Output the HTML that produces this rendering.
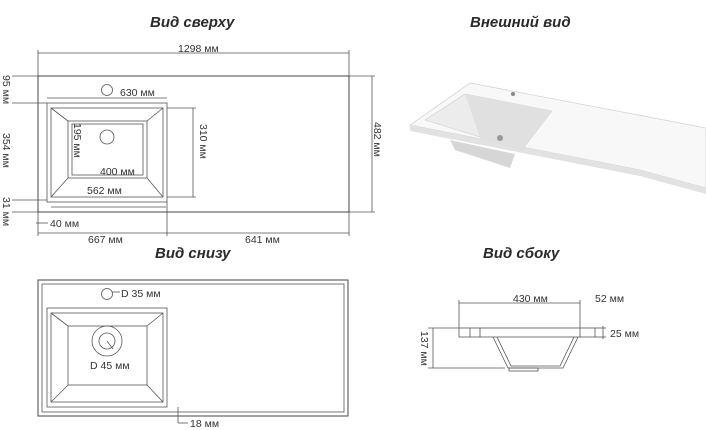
<!DOCTYPE html>
<html><head><meta charset="utf-8"><style>
html,body{margin:0;padding:0;background:#fff;width:706px;height:430px;overflow:hidden}
svg{display:block}
text{font-family:"Liberation Sans",sans-serif;fill:#333;font-size:10.5px}
.t{font-size:15px;font-weight:bold;font-style:italic;fill:#2a2a2a}
</style></head><body>
<svg width="706" height="430" viewBox="0 0 706 430" xmlns="http://www.w3.org/2000/svg">
<g stroke="#555" stroke-width="0.8" fill="none">
<!-- TOP VIEW -->
<rect x="38" y="76" width="311" height="136" stroke="#444" stroke-width="1"/>
<line x1="38" y1="53" x2="349" y2="53"/><line x1="38" y1="50" x2="38" y2="76"/><line x1="349" y1="50" x2="349" y2="76"/>
<line x1="349" y1="76" x2="375" y2="76"/><line x1="349" y1="212" x2="375" y2="212"/><line x1="372" y1="76" x2="372" y2="212"/>
<rect x="47" y="103" width="120" height="99"/>
<rect x="51" y="108" width="112" height="89"/>
<rect x="68" y="121" width="79" height="57"/>
<rect x="72" y="124" width="71" height="51"/>
<line x1="51" y1="108" x2="68" y2="121"/><line x1="163" y1="108" x2="147" y2="121"/>
<line x1="51" y1="197" x2="68" y2="178"/><line x1="163" y1="197" x2="147" y2="178"/>
<circle cx="107" cy="90" r="5.5"/><circle cx="107" cy="137" r="7"/>
<line x1="47" y1="98" x2="167" y2="98"/>
<line x1="167" y1="108" x2="196" y2="108"/><line x1="167" y1="197" x2="196" y2="197"/><line x1="193" y1="108" x2="193" y2="197"/>
<line x1="51" y1="207" x2="166" y2="207"/>
<line x1="12" y1="76" x2="38" y2="76"/><line x1="12" y1="103" x2="47" y2="103"/><line x1="12" y1="200" x2="47" y2="200"/><line x1="12" y1="212" x2="38" y2="212"/>
<line x1="38" y1="212" x2="38" y2="236"/><line x1="167" y1="202" x2="167" y2="236"/><line x1="349" y1="212" x2="349" y2="236"/>
<line x1="38" y1="233" x2="349" y2="233"/>
<line x1="36" y1="223" x2="48" y2="223"/>
<!-- BOTTOM VIEW -->
<rect x="38" y="280" width="310" height="136" stroke="#444" stroke-width="1"/>
<rect x="42" y="284" width="302" height="128"/>
<rect x="47" y="308" width="120" height="99"/>
<rect x="51" y="313" width="112" height="89"/>
<rect x="68" y="326" width="79" height="59"/>
<line x1="51" y1="313" x2="68" y2="326"/><line x1="163" y1="313" x2="147" y2="326"/>
<line x1="51" y1="402" x2="68" y2="385"/><line x1="163" y1="402" x2="147" y2="385"/>
<circle cx="107" cy="294" r="5.5"/><line x1="112" y1="292" x2="120" y2="292"/>
<circle cx="107" cy="341" r="15"/><circle cx="107" cy="341" r="8"/>
<line x1="107" y1="341" x2="113" y2="349"/>
<line x1="178" y1="407" x2="178" y2="423"/><line x1="178" y1="423" x2="188" y2="423"/>
<!-- SIDE VIEW -->
<rect x="459" y="328" width="136" height="9"/>
<line x1="470" y1="328" x2="470" y2="337"/><line x1="480" y1="328" x2="480" y2="337"/>
<line x1="580" y1="300" x2="580" y2="337"/><line x1="459" y1="300" x2="459" y2="328"/>
<line x1="459" y1="303" x2="580" y2="303"/>
<polyline points="493,337 508,368 563,368 578,337"/>
<polyline points="497,337 511,366 560,366 574,337"/>
<rect x="509" y="368" width="29" height="3"/>
<line x1="595" y1="328" x2="606" y2="328"/><line x1="595" y1="337" x2="606" y2="337"/><line x1="603" y1="326" x2="603" y2="339"/>
<line x1="428" y1="328" x2="459" y2="328"/><line x1="428" y1="368" x2="505" y2="368"/><line x1="433" y1="328" x2="433" y2="368"/>
</g>
<!-- 3D -->
<g>
<polygon points="470,83 706,128 706,188 640,170 410,125" fill="#f8f8f8" stroke="#d4d4d4" stroke-width="0.8"/>
<polygon points="410,125 640,170 706,188 706,194 640,176 410,131" fill="#e2e2e2"/>
<polygon points="450,140 515,154 510,168 455,150" fill="#d6d6d6"/>
<polygon points="425,120 465,94 552,111 522,150" fill="#ececec" stroke="#d0d0d0" stroke-width="0.6"/>
<polygon points="465,94 480,138 522,150 552,111" fill="#e0e0e0"/>
<circle cx="500" cy="138" r="3" fill="#999"/>
<circle cx="513" cy="94" r="2" fill="#888"/>
</g>
<!-- TEXT -->
<text class="t" x="150" y="27">Вид сверху</text>
<text class="t" x="470" y="27">Внешний вид</text>
<text class="t" x="155" y="258">Вид снизу</text>
<text class="t" x="483" y="258">Вид сбоку</text>
<text x="178" y="52">1298 мм</text>
<text x="120" y="96">630 мм</text>
<text x="100" y="175">400 мм</text>
<text x="87" y="194">562 мм</text>
<text x="50" y="227">40 мм</text>
<text x="88" y="243">667 мм</text>
<text x="245" y="243">641 мм</text>
<text transform="translate(374,122) rotate(90)">482 мм</text>
<text transform="translate(200,124) rotate(90)">310 мм</text>
<text transform="translate(74,123) rotate(90)">195 мм</text>
<text transform="translate(3,75) rotate(90)">95 мм</text>
<text transform="translate(3,133) rotate(90)">354 мм</text>
<text transform="translate(3,197) rotate(90)">31 мм</text>
<text x="121" y="297">D 35 мм</text>
<text x="90" y="369">D 45 мм</text>
<text x="190" y="427">18 мм</text>
<text x="513" y="302">430 мм</text>
<text x="595" y="302">52 мм</text>
<text x="610" y="337">25 мм</text>
<text transform="translate(421,331) rotate(90)">137 мм</text>
</svg>
</body></html>
